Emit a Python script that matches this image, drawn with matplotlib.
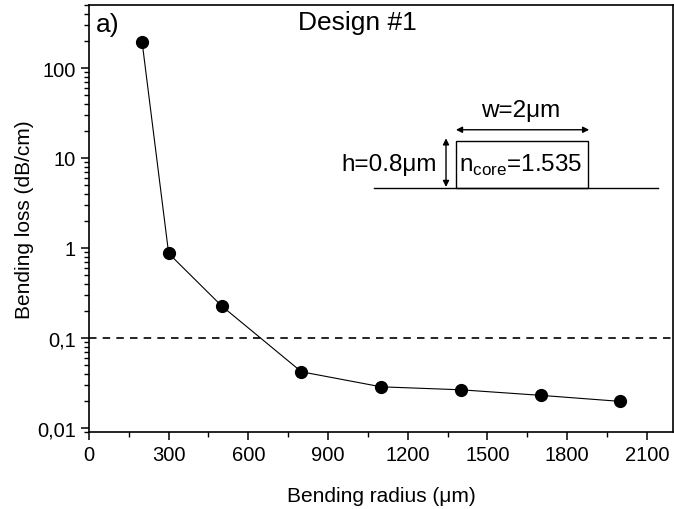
"""
Bending loss vs bending radius for waveguide design #1.
"""

import matplotlib
matplotlib.use("Agg")
import matplotlib.pyplot as plt
from matplotlib.patches import Rectangle
from matplotlib.ticker import FixedLocator, FuncFormatter, MultipleLocator

plt.rcParams['font.family'] = ['Liberation Sans', 'DejaVu Sans']

# data
radius = [200, 300, 500, 800, 1100, 1400, 1700, 2000]
loss = [195, 0.87, 0.226, 0.042, 0.0286, 0.0265, 0.023, 0.0197]
threshold = 0.1

y_ticks = [0.01, 0.1, 1, 10, 100]
y_ticklabels = ["0,01", "0,1", "1", "10", "100"]


fig = plt.figure(figsize=(6.74, 5.10), dpi=100)
ax = fig.add_axes([0.132, 0.151, 0.867, 0.837])

ax.plot(radius, loss, color='black', lw=0.8, marker='o', ms=8.5,
        markerfacecolor='black', markeredgecolor='black')
ax.axhline(threshold, color='black', lw=1.2, linestyle=(0, (4.5, 3.7)))

ax.set_yscale("log")
ax.set_xlim(0, 2200)
ax.set_ylim(0.009, 500)

ax.xaxis.set_major_locator(FixedLocator(range(0, 2101, 300)))
ax.xaxis.set_minor_locator(MultipleLocator(150))
ax.yaxis.set_major_locator(FixedLocator(y_ticks))
ax.yaxis.set_major_formatter(FuncFormatter(
    lambda v, pos: y_ticklabels[y_ticks.index(v)] if v in y_ticks else ""))

ax.tick_params(axis='both', which='major', direction='out', length=6,
               width=1.1, labelsize=14.5, top=False, right=False)
ax.tick_params(axis='both', which='minor', direction='out', length=3.5,
               width=1.0, top=False, right=False)
for s in ax.spines.values():
    s.set_linewidth(1.2)

ax.set_xlabel("Bending radius (\u03bcm)", fontsize=15, labelpad=16)
ax.set_ylabel("Bending loss (dB/cm)", fontsize=15, labelpad=2)

# labels
ax.text(0.012, 0.956, "a)", transform=ax.transAxes, fontsize=19,
        ha='left', va='center')
ax.text(0.459, 0.961, "Design #1", transform=ax.transAxes, fontsize=19,
        ha='center', va='center')

# waveguide sketch
k = dict(transform=ax.transAxes)
ax.plot([0.488, 0.974], [0.572, 0.572], color='black', lw=1.0, **k)
ax.add_patch(Rectangle((0.628, 0.572), 0.226, 0.110, fill=False,
                       edgecolor='black', lw=1.0, **k))
arrow = dict(arrowstyle='<|-|>', mutation_scale=9, lw=1.0, color='black',
             shrinkA=0, shrinkB=0)
ax.annotate("", xy=(0.628, 0.708), xytext=(0.856, 0.708),
            xycoords='axes fraction', textcoords='axes fraction',
            arrowprops=arrow)
ax.annotate("", xy=(0.611, 0.574), xytext=(0.611, 0.688),
            xycoords='axes fraction', textcoords='axes fraction',
            arrowprops=arrow)
ax.text(0.738, 0.754, "w=2\u03bcm", fontsize=17.5, ha='center', va='center', **k)
ax.text(0.596, 0.628, "h=0.8\u03bcm", fontsize=17.5, ha='right', va='center', **k)
ax.text(0.634, 0.626, "n$_{\\mathregular{core}}$=1.535", fontsize=17.5,
        ha='left', va='center', **k)

fig.savefig("out.png", dpi=100)
